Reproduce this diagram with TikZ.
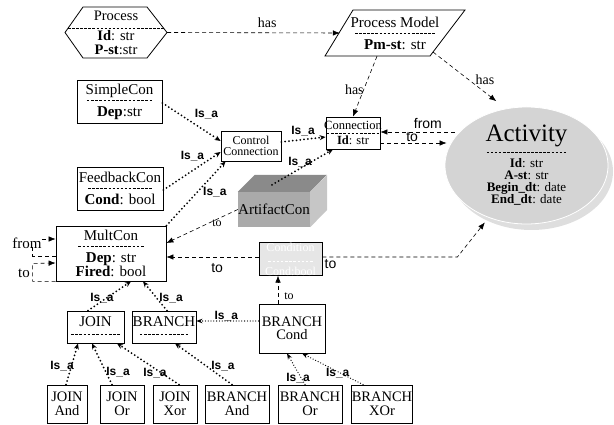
\documentclass[tikz,border=0pt]{standalone}
\usepackage{fontspec}
\setmainfont{Liberation Serif}
\setsansfont{Liberation Sans}
\usetikzlibrary{arrows.meta,shapes.geometric,calc}

% dashed separator line inside class boxes
\newcommand\dline[1]{\hbox to #1{\xleaders\hbox to 4pt{\hss\rule[3pt]{2.6pt}{0.6pt}\hss}\hfill}}
\newcommand\sepl[1]{\\[-3.7pt]\dline{#1}\\[-0.3pt]}

\definecolor{actfill}{RGB}{212,212,212}
\definecolor{actshade}{RGB}{222,222,222}
\definecolor{artfront}{RGB}{170,170,170}
\definecolor{arttop}{RGB}{138,138,138}
\definecolor{artside}{RGB}{198,198,198}
\definecolor{condfill}{RGB}{230,230,230}

\tikzset{
  txt/.style={font=\fontsize{15}{13}\selectfont, align=center, inner sep=0pt},
  cls/.style={txt, draw, line width=0.8pt, fill=white},
  leaf/.style={cls, font=\fontsize{14.5}{13.5}\selectfont, minimum height=38pt},
  small/.style={font=\fontsize{12}{11.5}\selectfont},
  outline/.style={line width=0.8pt},
  dashto/.style={line width=0.6pt, dash pattern=on 4pt off 3pt, -{Latex[length=7pt,width=5.5pt]}},
  dashline/.style={line width=0.6pt, dash pattern=on 4pt off 3pt},
  isa/.style={line width=2pt, line cap=round, dash pattern=on 0pt off 3.8pt, -{Stealth[length=6pt,width=5pt]}},
  isathin/.style={line width=1.3pt, line cap=round, dash pattern=on 0pt off 2.8pt, -{Stealth[length=6pt,width=4.5pt]}},
  isalbl/.style={font=\sffamily\bfseries\fontsize{12}{12}\selectfont, inner sep=0pt},
  haslbl/.style={font=\fontsize{14}{14}\selectfont, inner sep=0pt},
  sanslbl/.style={font=\sffamily\fontsize{14}{14}\selectfont, inner sep=0pt},
  tolbl/.style={font=\fontsize{12}{12}\selectfont, inner sep=0pt},
  looplbl/.style={font=\fontsize{15}{15}\selectfont, inner sep=0pt},
}

\begin{document}
\begin{tikzpicture}[x=1pt,y=-1pt]
\useasboundingbox (0,0) rectangle (614,425);

% ---------- Process (hexagon) ----------
\draw[outline] (83,7) -- (147,7) -- (167,32.5) -- (147,58) -- (83,58) -- (65,32.5) -- cycle;
\node[txt, font=\fontsize{14.5}{13}\selectfont, minimum width=102pt, minimum height=51pt] (process) at (116,32.5)
  {Process\\[-1.7pt]\dline{97pt}\\[-3.8pt]\textbf{Id}: str\\[0.5pt]\textbf{P-st}:str};

% ---------- Process Model (parallelogram) ----------
\draw[outline] (353,10) -- (465,10) -- (430,56) -- (325,56) -- cycle;
\node[txt, minimum width=110pt, minimum height=46pt] (pmodel) at (395,33)
  {Process Model\sepl{81pt}\textbf{Pm-st}: str};

% ---------- Activity (ellipse with shadow) ----------
\fill[actshade] (531.5,171.5) ellipse [x radius=81.5pt, y radius=58.5pt];
\node[shape=ellipse, fill=actfill, draw=white, line width=0.8pt, inner sep=0pt,
      minimum width=163pt, minimum height=117pt, align=center,
      font=\fontsize{13}{12}\selectfont] (activity) at (526.5,165.5)
  {{\fontsize{25}{25}\selectfont Activity}\\[2pt]\dline{81pt}\\
   \textbf{Id}: str\\\textbf{A-st}: str\\\textbf{Begin\_dt}: date\\\textbf{End\_dt}: date};

% ---------- class boxes ----------
\node[cls, minimum width=85pt, minimum height=43pt] (simplecon) at (119.5,101.5)
  {SimpleCon\sepl{67pt}\textbf{Dep}:str};
\node[cls, minimum width=86pt, minimum height=43pt] (feedbackcon) at (120,188.5)
  {FeedbackCon\sepl{65pt}\textbf{Cond}: bool};
\node[cls, small, minimum width=60pt, minimum height=30pt] (control) at (251,146)
  {Control\\Connection};
\node[cls, font=\fontsize{12.5}{11}\selectfont, minimum width=54pt, minimum height=32pt] (connection) at (353,133)
  {\makebox[54pt]{Connection}\\[-4.2pt]\dline{54pt}\\[-3.3pt]\textbf{Id}: str};
\node[cls, minimum width=110pt, minimum height=55pt] (multcon) at (111,253.5)
  {MultCon\sepl{67pt}\textbf{Dep}: str\\[-1pt]\textbf{Fired}: bool};

% ArtifactCon as a shaded block
\node[txt, fill=artfront, minimum width=72pt, minimum height=35pt] (artifact) at (274,209.5) {ArtifactCon};
\fill[arttop] (artifact.north west) -- ++(17,-17) -- ++(72,0) -- (artifact.north east) -- cycle;
\fill[artside] (artifact.north east) -- ++(17,-17) -- ++(0,35) -- (artifact.south east) -- cycle;

% Condition box
\node[cls, fill=condfill, text=white, font=\fontsize{12}{11}\selectfont,
      minimum width=63pt, minimum height=32pt] (condition) at (290.5,259)
  {Condition\\[2.3pt]\dline{46pt}\\[-0.3pt]Cond:bool};

\node[cls, minimum width=57pt, minimum height=32pt] (join) at (95.5,327)
  {JOIN\\[-2.7pt]\dline{51pt}};
\node[cls, minimum width=64pt, minimum height=32pt] (branch) at (164,327)
  {BRANCH\\[-2.7pt]\dline{50pt}};
\node[cls, font=\fontsize{14.5}{13.5}\selectfont, minimum width=66pt, minimum height=49pt] (branchcond) at (292,328.5)
  {BRANCH\\Cond};

\node[leaf, minimum width=40pt] (joinand) at (67,404) {JOIN\\And};
\node[leaf, minimum width=44pt] (joinor) at (122,404) {JOIN\\Or};
\node[leaf, minimum width=44pt] (joinxor) at (175,404) {JOIN\\Xor};
\node[leaf, minimum width=64pt] (branchand) at (237,404) {BRANCH\\And};
\node[leaf, minimum width=64pt] (branchor) at (310,404) {BRANCH\\Or};
\node[leaf, minimum width=60pt] (branchxor) at (382,404) {BRANCH\\XOr};

% ---------- "has" / "from" / "to" associations ----------
\draw[dashto] (process.east) -- (pmodel.west)
  node[haslbl, pos=.58, yshift=10pt] {has};
\draw[dashto, shorten >=12pt] ([xshift=38pt,yshift=-19pt]pmodel.center) -- (activity.110)
  node[haslbl, pos=.633, xshift=6pt, yshift=7.7pt] {has};
\draw[dashto] ([xshift=-18pt]pmodel.south) -- (connection.north)
  node[haslbl, pos=.61, xshift=-8pt, yshift=3pt] {has};

\draw[dashto] ($(activity.west |- connection.east)+(10,-1)$) -- ([yshift=1pt]connection.east)
  node[sanslbl, pos=.36, yshift=8pt] {from};
\draw[dashto] ([yshift=-10pt]connection.east) -- ($(activity.west |- connection.east)+(2,10)$)
  node[sanslbl, pos=.48, yshift=6pt] {to};

\draw[dashto] (artifact.west) -- ([yshift=10.5pt]multcon.east)
  node[tolbl, pos=.311, xshift=1.4pt, yshift=-3pt] {to};
\draw[dashto] ([yshift=2pt]condition.west) -- ([yshift=-3.5pt]multcon.east)
  node[sanslbl, pos=.45, yshift=-11pt] {to};
\draw[dashto, shorten >=6pt] ([yshift=2pt]condition.east)
  -- node[sanslbl, pos=.06, yshift=-7pt] {to} ++(135,0) -- (activity.-126);
\draw[dashto] ([xshift=-14pt]branchcond.north) -- ([xshift=-12.5pt]condition.south)
  node[tolbl, pos=.25, xshift=11pt] {to};

% MultCon self references
\node[looplbl] (fromlbl) at (27,243) {from};
\node[looplbl] (tolbl) at (24,273) {to};
\draw[dashto] ([yshift=4pt]fromlbl.east) -- ([yshift=14.5pt]multcon.west);
\draw[dashline] ([yshift=-2.5pt]multcon.west) -- ++(-23,0) -- ++(0,-9);
\draw[dashto] (multcon.south west) -- ++(-23,0) -- ++(0,-18) -- ([yshift=-9.5pt]multcon.west);

% ---------- Is_a generalisations ----------
\draw[isa] ([yshift=-1.5pt]simplecon.east) -- ([yshift=5pt]control.west)
  node[isalbl, pos=.62, xshift=8pt, yshift=12pt] {Is\_a};
\draw[isa] ([yshift=-1.5pt]feedbackcon.east) -- ([yshift=-6pt]control.west)
  node[isalbl, pos=.63, xshift=-7pt, yshift=10pt] {Is\_a};
\draw[isa] (multcon.north east) -- ([xshift=5pt]control.south west)
  node[isalbl, pos=.658, xshift=9.5pt, yshift=-8.8pt] {Is\_a};
\draw[isa] ([yshift=4pt]control.east) -- ([yshift=-4pt]connection.west)
  node[isalbl, pos=.49, yshift=8.5pt] {Is\_a};
\draw[isa] ([xshift=-2pt,yshift=7pt]artifact.north) -- ([xshift=-20pt]connection.south)
  node[isalbl, pos=.5, xshift=-2.5pt, yshift=4.5pt] {Is\_a};

\draw[isa] ([xshift=-7.5pt]join.north) -- ([xshift=20pt]multcon.south)
  node[isalbl, pos=.36, xshift=-1.5pt, yshift=2.2pt] {Is\_a};
\draw[isa] ([xshift=3pt]branch.north) -- ([xshift=32pt]multcon.south)
  node[isalbl, pos=.2, xshift=8.8pt, yshift=7pt] {Is\_a};
\draw[isathin] ([yshift=7.5pt]branchcond.west) -- ([yshift=6pt]branch.east)
  node[isalbl, pos=.52, yshift=5pt] {Is\_a};

\draw[isa] ([xshift=-1pt]joinand.north) -- ([xshift=-17.5pt]join.south)
  node[isalbl, pos=.378, xshift=-8.5pt, yshift=2.5pt] {Is\_a};
\draw[isa] ([xshift=-10pt]joinor.north) -- ([xshift=-3.5pt]join.south)
  node[isalbl, pos=.197, xshift=10pt, yshift=4.7pt] {Is\_a};
\draw[isa] ([xshift=4pt]joinxor.north) -- ([xshift=21.5pt]join.south)
  node[isalbl, pos=.355, xshift=-2pt, yshift=-2.9pt] {Is\_a};
\draw[isa] ([xshift=-5pt]branchand.north) -- ([xshift=11pt]branch.south)
  node[isalbl, pos=.26, xshift=5.8pt, yshift=8pt] {Is\_a};
\draw[isathin] ([xshift=-5pt]branchor.north) -- ([xshift=-5pt]branchcond.south)
  node[isalbl, pos=.26, xshift=-2.3pt, yshift=-1.3pt] {Is\_a};
\draw[isathin] ([xshift=-19pt]branchxor.north) -- ([xshift=10pt]branchcond.south)
  node[isalbl, pos=.415, yshift=-1.3pt] {Is\_a};
\end{tikzpicture}
\end{document}
